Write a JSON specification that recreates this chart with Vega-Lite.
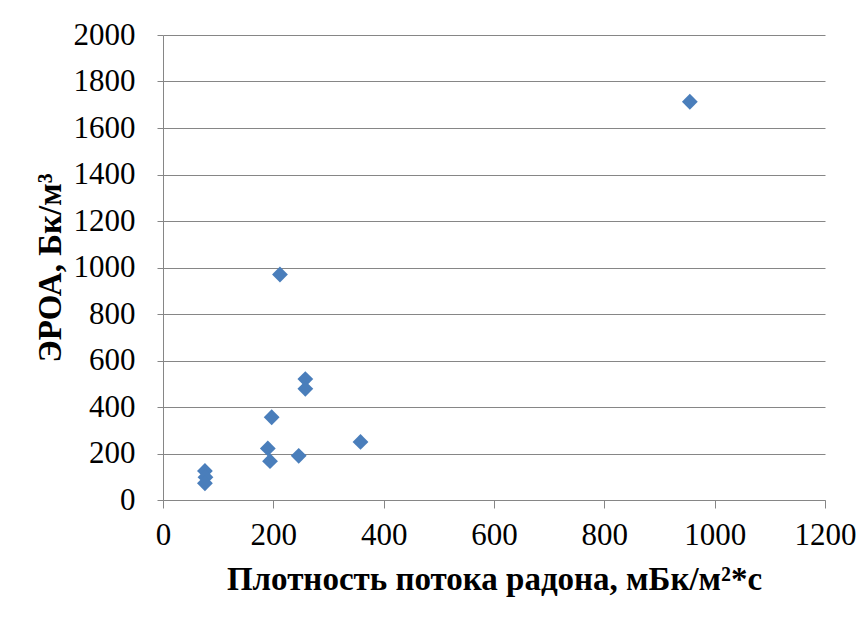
{
  "$schema": "https://vega.github.io/schema/vega-lite/v6.json",
  "autosize": {"type": "none"},
  "width": 662,
  "height": 465,
  "padding": {"left": 163, "top": 35, "right": 41, "bottom": 117},
  "background": "white",
  "data": {"values": [
    {"x": 76, "y": 125},
    {"x": 77, "y": 98},
    {"x": 76, "y": 72},
    {"x": 197, "y": 356},
    {"x": 190, "y": 222},
    {"x": 194, "y": 167},
    {"x": 246, "y": 190},
    {"x": 258, "y": 520},
    {"x": 258, "y": 478},
    {"x": 358, "y": 250},
    {"x": 212, "y": 970},
    {"x": 955, "y": 1713}
  ]},
  "mark": {"type": "point", "shape": "diamond", "filled": true, "size": 250, "color": "#4a7ebb", "opacity": 1},
  "encoding": {
    "x": {
      "field": "x", "type": "quantitative",
      "scale": {"domain": [0, 1200], "nice": false, "zero": true},
      "axis": {
        "values": [0, 200, 400, 600, 800, 1000, 1200],
        "format": "d",
        "title": "Плотность потока радона, мБк/м²*с",
        "grid": false,
        "domainColor": "#868686", "tickColor": "#868686", "tickSize": 8,
        "labelFont": "Liberation Serif", "labelFontSize": 31, "labelColor": "black", "labelPadding": 12,
        "labelFlush": false,
        "titleFont": "Liberation Serif", "titleFontSize": 33, "titleFontWeight": "bold", "titleColor": "black", "titlePadding": 13
      }
    },
    "y": {
      "field": "y", "type": "quantitative",
      "scale": {"domain": [0, 2000], "nice": false},
      "axis": {
        "values": [0, 200, 400, 600, 800, 1000, 1200, 1400, 1600, 1800, 2000],
        "format": "d",
        "title": "ЭРОА, Бк/м³",
        "grid": true, "gridColor": "#868686", "gridWidth": 1,
        "domainColor": "#868686", "tickColor": "#868686", "tickSize": 6,
        "labelFont": "Liberation Serif", "labelFontSize": 31, "labelColor": "black", "labelPadding": 22,
        "labelFlush": false,
        "titleFont": "Liberation Serif", "titleFontSize": 33, "titleFontWeight": "bold", "titleColor": "black", "titlePadding": 6
      }
    }
  },
  "config": {"view": {"stroke": null}}
}
